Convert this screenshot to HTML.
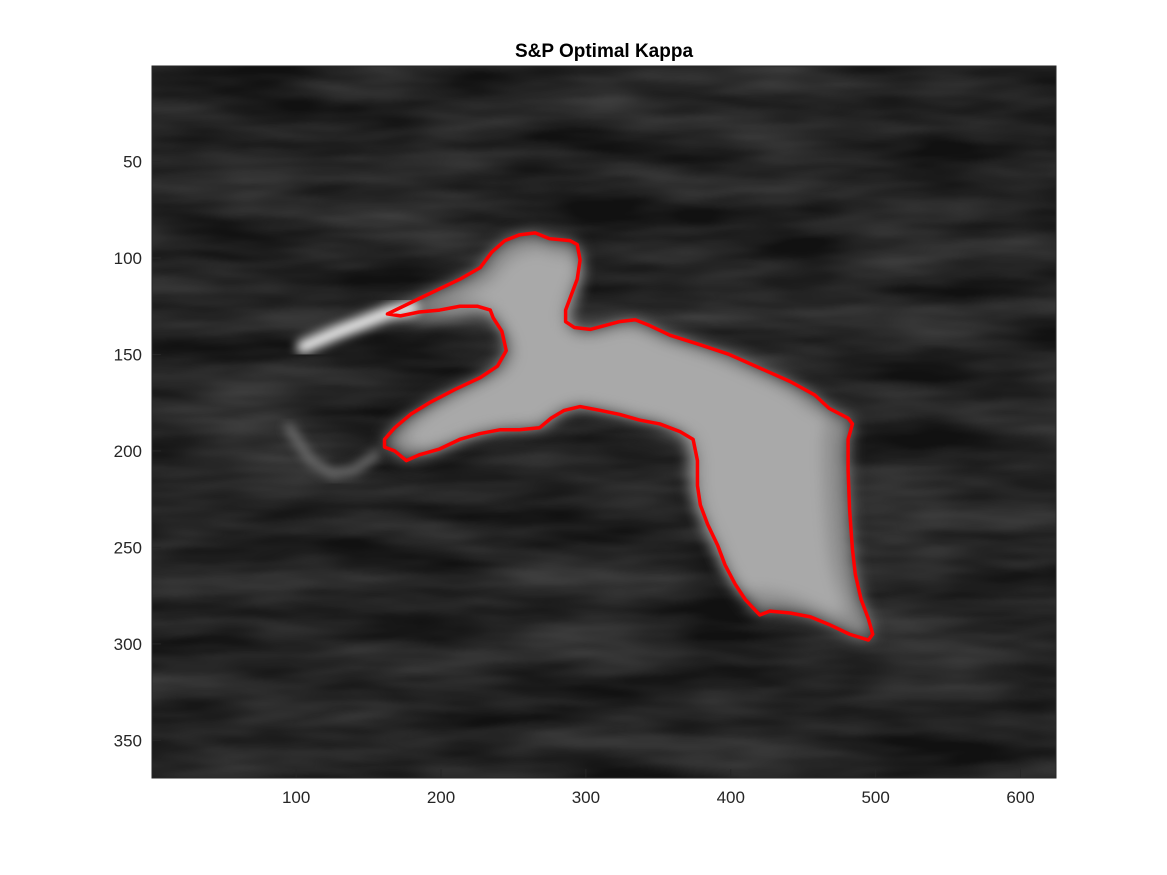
<!DOCTYPE html>
<html><head><meta charset="utf-8"><style>
html,body{margin:0;padding:0;background:#fff;width:1167px;height:875px;overflow:hidden}
text{font-family:"Liberation Sans",sans-serif}
</style></head><body>
<svg id="chart" width="1167" height="875" xmlns="http://www.w3.org/2000/svg">
<defs>
<filter id="blur8" x="-20%" y="-20%" width="140%" height="140%"><feGaussianBlur stdDeviation="8"/></filter>
<filter id="blur4" x="-20%" y="-20%" width="140%" height="140%"><feGaussianBlur stdDeviation="5"/></filter>
<filter id="noise" x="0" y="0" width="100%" height="100%"><feTurbulence type="fractalNoise" baseFrequency="0.006 0.03" numOctaves="3" seed="4"/><feColorMatrix type="matrix" values="0 0 0 0 0.3  0 0 0 0 0.3  0 0 0 0 0.3  0 0 0 0.9 -0.2"/></filter>
<clipPath id="plotclip"><rect x="152" y="66" width="904" height="712"/></clipPath>
</defs>
<rect x="152" y="66" width="904" height="712" fill="#111"/>
<g clip-path="url(#plotclip)"><rect x="152" y="66" width="904" height="712" filter="url(#noise)" opacity="0.6"/></g>
<g id="bird" clip-path="url(#plotclip)"></g>
<g id="contour"></g>
<rect x="152" y="66" width="904" height="712" fill="none" stroke="#262626" stroke-width="1"/>
<g id="xticks"></g><g id="yticks"></g>
<text x="604" y="57" text-anchor="middle" font-size="19" font-weight="bold" fill="#000">S&amp;P Optimal Kappa</text>
</svg>
<script>
const xTicks=[100,200,300,400,500,600];
const yTicks=[50,100,150,200,250,300,350];
const contourX=[163,185,213,227,235,244,254,265,275,289,294,296,294,290,286,286,292,303,313,323,334,344,358,379,399,420,441,458,468,481,484,481,481,482,484,486,490,495,498,495,482,468,455,441,427,420,410,403,396,391,384,379,377,377,374,365,351,337,323,310,296,285,276,268,254,241,227,213,199,185,176,168,161,161,168,179,192,210,227,239,245,242,236,234,225,213,199,185,172,163];
const contourY=[129,121,111,105,97,91,88,87,90,91,93,101,111,119,127,133,136,137,135,133,132,135,140,145,150,157,164,171,178,183,186,194,210,230,251,264,277,287,295,298,295,290,286,284,283,285,277,269,259,249,238,228,218,205,194,190,186,184,181,179,177,179,183,188,189,189,191,194,199,202,205,200,198,194,188,181,175,168,162,156,148,138,131,127,125,125,127,128,130,129];
const beakX=[105,130,165,180];const beakY=[146,138,128,126];
const tailX=[95,110,125,140,155];const tailY=[188,205,212,210,202];
const xMin=0.5,xMax=624.5,yMin=0.5,yMax=369.5;
const L=152,R=1056,T=66,B=778;
const sx=v=>L+(v-xMin)/(xMax-xMin)*(R-L);
const sy=v=>T+(v-yMin)/(yMax-yMin)*(B-T);
const NS="http://www.w3.org/2000/svg";
function mk(tag,attrs,parent){const e=document.createElementNS(NS,tag);for(const k in attrs)e.setAttribute(k,attrs[k]);parent.appendChild(e);return e;}
const pts=contourX.map((x,i)=>sx(x)+","+sy(contourY[i])).join(" ");
const bird=document.getElementById('bird');
const bf=mk('polygon',{points:pts,fill:'#8e8e8e',filter:'url(#blur8)'},bird);


const bh=mk('polygon',{points:pts,fill:'#c4c4c4',filter:'url(#blur8)',transform:'translate(60,40) scale(0.9)',opacity:'0.5'},bird);


const bk=mk('polyline',{points:beakX.map((x,i)=>sx(x)+","+sy(beakY[i])).join(" "),fill:'none',stroke:'#e8e8e8','stroke-width':14,'stroke-linecap':'round',filter:'url(#blur4)'},bird);


const tl=mk('polyline',{points:tailX.map((x,i)=>sx(x)+","+sy(tailY[i])).join(" "),fill:'none',stroke:'#6a6a6a','stroke-width':10,'stroke-linecap':'round',filter:'url(#blur4)'},bird);


const c=mk('polygon',{points:pts,fill:'none',stroke:'#ff0000','stroke-width':3.5,'stroke-linejoin':'round'},document.getElementById('contour'));


const gx=document.getElementById('xticks');
xTicks.forEach(v=>{const x=sx(v);
 const t=mk('line',{x1:x,x2:x,y1:B,y2:B-9,stroke:'#262626'},gx);
 
 
 const l=mk('text',{x:x,y:B+25,'text-anchor':'middle','font-size':17,fill:'#262626'},gx);l.textContent=v;
 
 
});
const gy=document.getElementById('yticks');
yTicks.forEach(v=>{const y=sy(v);
 const t=mk('line',{x1:L,x2:L+9,y1:y,y2:y,stroke:'#262626'},gy);
 
 
 const l=mk('text',{x:L-10,y:y+6,'text-anchor':'end','font-size':17,fill:'#262626'},gy);l.textContent=v;
 
 
});
</script>
</body></html>
